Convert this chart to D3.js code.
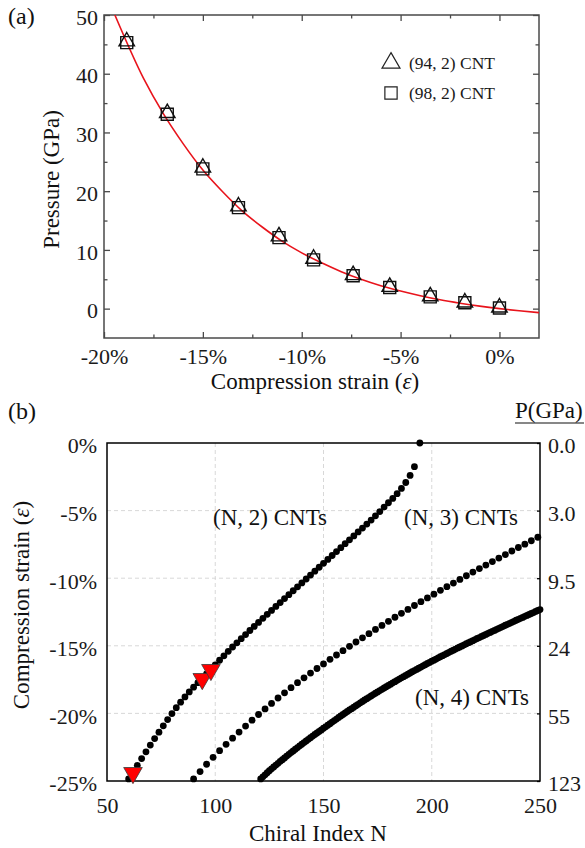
<!DOCTYPE html>
<html>
<head>
<meta charset="utf-8">
<script src="https://cdn.jsdelivr.net/npm/d3@7"></script>
<style>
  body { margin: 0; background: #fff; }
  svg { display: block; }
  text { font-family: "Liberation Serif", "Times New Roman", Times, serif; }
</style>
</head>
<body>
<svg width="585" height="848" font-family="Liberation Serif, Times New Roman, serif"></svg>
<script>
// ---------- panel (a): pressure vs strain ----------
const strainA = [-18.85, -16.8, -15.0, -13.2, -11.15, -9.4, -7.4, -5.55, -3.5, -1.75, 0];
const pTri94  = [45.5, 33.3, 24.0, 17.4, 12.3, 8.5, 5.7, 3.7, 2.1, 1.05, 0.2];
const pSq98   = [45.3, 33.1, 23.8, 17.2, 12.1, 8.3, 5.6, 3.6, 2.0, 1.0, 0.1];
const fitStrain = [-19.45, -18, -17, -16, -15, -14, -13, -12, -11, -10, -9, -8, -7, -6, -5, -4, -3, -2, -1, 0, 1, 2];
const fitP      = [50, 39.2, 33.2, 28.1, 23.6, 19.9, 16.6, 13.9, 11.5, 9.5, 7.8, 6.3, 5.0, 3.9, 3.0, 2.2, 1.5, 0.93, 0.43, 0, -0.37, -0.68];
const xTicksA = [-20, -15, -10, -5, 0];
const xMinorA = [-17.5, -12.5, -7.5, -2.5];
const yTicksA = [0, 10, 20, 30, 40, 50];
const yMinorA = [5, 15, 25, 35, 45];
const legendA = ["(94, 2) CNT", "(98, 2) CNT"];

// ---------- panel (b): strain vs chiral index ----------
const n2Index = d3.range(60, 193, 2).concat([194.5]);
const eps2 = [
  -24.85, -24.34, -23.84, -23.34, -22.84, -22.34, -21.86, -21.39, -20.92, -20.46,
  -20.01, -19.58, -19.17, -18.78, -18.41, -18.06, -17.73, -17.41, -17.08, -16.75,
  -16.41, -16.07, -15.74, -15.41, -15.09, -14.78, -14.47, -14.17, -13.87, -13.57,
  -13.27, -12.97, -12.67, -12.38, -12.09, -11.80, -11.51, -11.22, -10.93, -10.64,
  -10.35, -10.06, -9.77, -9.48, -9.19, -8.90, -8.61, -8.32, -8.03, -7.74,
  -7.45, -7.16, -6.87, -6.58, -6.29, -6.00, -5.70, -5.39, -5.07, -4.74,
  -4.42, -4.10, -3.75, -3.36, -2.92, -2.40, -1.75, 0
];
const n3Index = d3.range(90, 250, 3);
const eps3 = [
  -24.85, -24.30, -23.76, -23.25, -22.76, -22.29, -21.83, -21.38, -20.94, -20.50,
  -20.08, -19.67, -19.26, -18.86, -18.48, -18.10, -17.73, -17.37, -17.02, -16.68,
  -16.34, -16.00, -15.68, -15.36, -15.04, -14.72, -14.41, -14.10, -13.79, -13.49,
  -13.19, -12.89, -12.60, -12.31, -12.02, -11.74, -11.46, -11.18, -10.90, -10.63,
  -10.36, -10.09, -9.82, -9.55, -9.29, -9.03, -8.77, -8.51, -8.25, -7.99,
  -7.73, -7.48, -7.23, -6.97
];
const n4Index = d3.range(121, 251, 1);
const eps4 = [
  -24.85, -24.69, -24.54, -24.39, -24.24, -24.10, -23.96, -23.82, -23.69, -23.55,
  -23.42, -23.29, -23.16, -23.03, -22.90, -22.78, -22.65, -22.53, -22.40, -22.28,
  -22.16, -22.04, -21.92, -21.80, -21.68, -21.56, -21.45, -21.33, -21.22, -21.10,
  -20.99, -20.87, -20.76, -20.64, -20.53, -20.42, -20.30, -20.19, -20.08, -19.97,
  -19.86, -19.75, -19.65, -19.54, -19.43, -19.33, -19.22, -19.12, -19.01, -18.91,
  -18.81, -18.71, -18.61, -18.51, -18.41, -18.31, -18.22, -18.12, -18.03, -17.93,
  -17.84, -17.74, -17.65, -17.55, -17.46, -17.37, -17.28, -17.19, -17.10, -17.01,
  -16.92, -16.83, -16.75, -16.66, -16.57, -16.48, -16.40, -16.31, -16.23, -16.14,
  -16.06, -15.98, -15.89, -15.81, -15.73, -15.65, -15.57, -15.48, -15.40, -15.32,
  -15.24, -15.16, -15.09, -15.01, -14.93, -14.85, -14.77, -14.70, -14.62, -14.54,
  -14.46, -14.39, -14.31, -14.24, -14.16, -14.08, -14.01, -13.93, -13.86, -13.78,
  -13.71, -13.63, -13.56, -13.48, -13.41, -13.34, -13.26, -13.19, -13.11, -13.04,
  -12.97, -12.90, -12.82, -12.75, -12.68, -12.61, -12.54, -12.46, -12.39, -12.32
];
// highlighted tubes (62,2), (94,2), (98,2)
const markN = [62, 94, 98];
const markEps = [-24.4, -17.45, -16.78];
const xTicksB = [50, 100, 150, 200, 250];
const yTicksB = [0, -5, -10, -15, -20, -25];
const pLabelsB = ["0.0", "3.0", "9.5", "24", "55", "123"];
const seriesLabels = ["(N, 2) CNTs", "(N, 3) CNTs", "(N, 4) CNTs"];

const svg = d3.select("svg");
const serif = "Liberation Serif, Times New Roman, serif";
const tickFont = 22, titleFont = 23;

// ================= panel (a) =================
const A = { l: 104, r: 539, t: 15, b: 338 };
const xA = d3.scaleLinear().domain([-20, 2]).range([A.l, A.r]);
const yA = d3.scaleLinear().domain([-5, 50]).range([A.b, A.t]);
const colA = "#4a4a4a";
const gA = svg.append("g");

function styleAxis(g, col) {
  g.attr("font-family", serif).attr("font-size", tickFont);
  g.select(".domain").remove();
  g.selectAll("line").attr("stroke", col).attr("stroke-width", 1.3);
  g.selectAll("text").attr("fill", "#1a1a1a").attr("font-size", tickFont).attr("font-family", serif);
}

gA.append("g").attr("transform", `translate(0,${A.b})`)
  .call(d3.axisBottom(xA).tickValues(xTicksA).tickSize(-6).tickPadding(10).tickFormat(d => d + "%"))
  .call(g => styleAxis(g, colA));
gA.append("g").attr("transform", `translate(0,${A.b})`)
  .call(d3.axisBottom(xA).tickValues(xMinorA).tickSize(-3.5).tickFormat(""))
  .call(g => styleAxis(g, colA));
gA.append("g").attr("transform", `translate(0,${A.t})`)
  .call(d3.axisTop(xA).tickValues(xTicksA).tickSize(-6).tickFormat(""))
  .call(g => styleAxis(g, colA));
gA.append("g").attr("transform", `translate(0,${A.t})`)
  .call(d3.axisTop(xA).tickValues(xMinorA).tickSize(-3.5).tickFormat(""))
  .call(g => styleAxis(g, colA));
gA.append("g").attr("transform", `translate(${A.l},0)`)
  .call(d3.axisLeft(yA).tickValues(yTicksA).tickSize(-6).tickPadding(6))
  .call(g => styleAxis(g, colA))
  .call(g => g.selectAll("text").attr("dy", "0.42em"));
gA.append("g").attr("transform", `translate(${A.l},0)`)
  .call(d3.axisLeft(yA).tickValues(yMinorA).tickSize(-3.5).tickFormat(""))
  .call(g => styleAxis(g, colA));
gA.append("g").attr("transform", `translate(${A.r},0)`)
  .call(d3.axisRight(yA).tickValues(yTicksA).tickSize(-6).tickFormat(""))
  .call(g => styleAxis(g, colA));
gA.append("g").attr("transform", `translate(${A.r},0)`)
  .call(d3.axisRight(yA).tickValues(yMinorA).tickSize(-3.5).tickFormat(""))
  .call(g => styleAxis(g, colA));

gA.append("rect")
  .attr("x", A.l).attr("y", A.t).attr("width", A.r - A.l).attr("height", A.b - A.t)
  .attr("fill", "none").attr("stroke", colA).attr("stroke-width", 1.5);

svg.append("clipPath").attr("id", "clipA")
  .append("rect").attr("x", A.l).attr("y", A.t).attr("width", A.r - A.l).attr("height", A.b - A.t);

const fitPts = fitStrain.map((s, i) => [s, fitP[i]]);
gA.append("path")
  .attr("clip-path", "url(#clipA)")
  .attr("d", d3.line().x(d => xA(d[0])).y(d => yA(d[1])).curve(d3.curveMonotoneX)(fitPts))
  .attr("fill", "none").attr("stroke", "#e8141c").attr("stroke-width", 1.6);

const triSym = d3.symbol(d3.symbolTriangle, 104);
const sqSym = d3.symbol(d3.symbolSquare, 144);
gA.append("g").selectAll("path").data(strainA).join("path")
  .attr("transform", (d, i) => `translate(${xA(d)},${yA(pSq98[i])})`)
  .attr("d", sqSym).attr("fill", "none").attr("stroke", "#111").attr("stroke-width", 1.4);
gA.append("g").selectAll("path").data(strainA).join("path")
  .attr("transform", (d, i) => `translate(${xA(d)},${yA(pTri94[i])})`)
  .attr("d", triSym).attr("fill", "none").attr("stroke", "#111").attr("stroke-width", 1.4);

// legend
const leg = gA.append("g");
leg.append("path").attr("transform", "translate(391,63)")
  .attr("d", d3.symbol(d3.symbolTriangle, 140)).attr("fill", "none").attr("stroke", "#222").attr("stroke-width", 1.2);
leg.append("path").attr("transform", "translate(391,93)")
  .attr("d", d3.symbol(d3.symbolSquare, 150)).attr("fill", "none").attr("stroke", "#222").attr("stroke-width", 1.2);
leg.selectAll("text").data(legendA).join("text")
  .attr("x", 409).attr("y", (d, i) => 69 + i * 30)
  .attr("font-family", serif).attr("font-size", 17.5).attr("fill", "#1a1a1a").text(d => d);

gA.append("text").attr("x", 8).attr("y", 24).attr("font-family", serif).attr("font-size", 24).attr("fill", "#111").text("(a)");
gA.append("text")
  .attr("transform", `translate(59,${(A.t + A.b) / 2 + 3}) rotate(-90)`)
  .attr("text-anchor", "middle").attr("font-family", serif).attr("font-size", titleFont).attr("fill", "#111")
  .text("Pressure (GPa)");
const xtA = gA.append("text").attr("x", 315).attr("y", 389)
  .attr("text-anchor", "middle").attr("font-family", serif).attr("font-size", titleFont).attr("fill", "#111");
xtA.append("tspan").text("Compression strain (");
xtA.append("tspan").attr("font-style", "italic").text("ε");
xtA.append("tspan").text(")");

// ================= panel (b) =================
const B = { l: 107, r: 540, t: 443, b: 781 };
const xB = d3.scaleLinear().domain([50, 250]).range([B.l, B.r]);
const yB = d3.scaleLinear().domain([-25, 0]).range([B.b, B.t]);
const gB = svg.append("g");

// dashed grid
gB.append("g").selectAll("line").data(xTicksB.slice(1, -1)).join("line")
  .attr("x1", d => xB(d)).attr("x2", d => xB(d)).attr("y1", B.t).attr("y2", B.b)
  .attr("stroke", "#d4d4d4").attr("stroke-width", 0.9).attr("stroke-dasharray", "4,3");
gB.append("g").selectAll("line").data(yTicksB.slice(1, -1)).join("line")
  .attr("x1", B.l).attr("x2", B.r).attr("y1", d => yB(d)).attr("y2", d => yB(d))
  .attr("stroke", "#d4d4d4").attr("stroke-width", 0.9).attr("stroke-dasharray", "4,3");

gB.append("g").attr("transform", `translate(0,${B.b})`)
  .call(d3.axisBottom(xB).tickValues(xTicksB).tickSize(0).tickPadding(16))
  .call(g => styleAxis(g, "#000"));
gB.append("g").attr("transform", `translate(${B.l},0)`)
  .call(d3.axisLeft(yB).tickValues(yTicksB).tickSize(0).tickPadding(10).tickFormat(d => d + "%"))
  .call(g => styleAxis(g, "#000"))
  .call(g => g.selectAll("text").attr("dy", "0.45em"));
gB.append("g").attr("transform", `translate(${B.r},0)`)
  .call(d3.axisRight(yB).tickValues(yTicksB).tickSize(-3).tickPadding(8).tickFormat((d, i) => pLabelsB[i]))
  .call(g => styleAxis(g, "#000"))
  .call(g => g.selectAll("text").attr("dy", "0.45em"));

gB.append("rect")
  .attr("x", B.l).attr("y", B.t).attr("width", B.r - B.l).attr("height", B.b - B.t)
  .attr("fill", "none").attr("stroke", "#000").attr("stroke-width", 1.5);

const series = [[n2Index, eps2], [n3Index, eps3], [n4Index, eps4]];
series.forEach(([ns, es]) => {
  gB.append("g").selectAll("circle").data(ns).join("circle")
    .attr("cx", d => xB(d)).attr("cy", (d, i) => yB(es[i])).attr("r", 3.4)
    .attr("fill", "#000");
});

gB.append("g").selectAll("path").data(markN).join("path")
  .attr("transform", (d, i) => `translate(${xB(d)},${yB(markEps[i])}) rotate(180)`)
  .attr("d", d3.symbol(d3.symbolTriangle, 150))
  .attr("fill", "#ff0000").attr("stroke", "#3a3a3a").attr("stroke-width", 0.8);

const labPos = [[213, 525], [404, 525], [415, 705]];
gB.append("g").selectAll("text").data(seriesLabels).join("text")
  .attr("x", (d, i) => labPos[i][0]).attr("y", (d, i) => labPos[i][1])
  .attr("font-family", serif).attr("font-size", titleFont).attr("fill", "#111").text(d => d);

gB.append("text").attr("x", 8).attr("y", 419).attr("font-family", serif).attr("font-size", 24).attr("fill", "#111").text("(b)");
gB.append("text").attr("x", 515).attr("y", 418).attr("font-family", serif).attr("font-size", titleFont).attr("fill", "#111").text("P(GPa)");
gB.append("line").attr("x1", 515).attr("x2", 584).attr("y1", 423).attr("y2", 423)
  .attr("stroke", "#111").attr("stroke-width", 1.1);

const ytB = gB.append("text")
  .attr("transform", `translate(29,605) rotate(-90)`)
  .attr("text-anchor", "middle").attr("font-family", serif).attr("font-size", titleFont).attr("fill", "#111");
ytB.append("tspan").text("Compression strain (");
ytB.append("tspan").attr("font-style", "italic").text("ε");
ytB.append("tspan").text(")");

gB.append("text").attr("x", 318).attr("y", 841)
  .attr("text-anchor", "middle").attr("font-family", serif).attr("font-size", titleFont).attr("fill", "#111")
  .text("Chiral Index N");
</script>
</body>
</html>
